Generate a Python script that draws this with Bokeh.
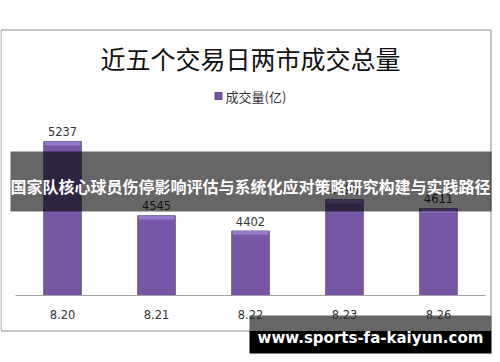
from bokeh.plotting import figure
from bokeh.models import Range1d
from bokeh.core.properties import value
from bokeh.embed import file_html
from bokeh.resources import INLINE

# ---- data ----
dates = ["8.20", "8.21", "8.22", "8.23", "8.26"]
volumes = [5237, 4545, 4402, 4695, 4611]
value_labels = [str(v) for v in volumes]
title_text = "近五个交易日两市成交总量"
legend_text = "成交量(亿)"
banner_text = "国家队核心球员伤停影响评估与系统化应对策略研究构建与实践路径"
url_text = "www.sports-fa-kaiyun.com"

AXIS_MIN = 3800
pos = list(range(len(dates)))  # category slots

CJK = value("Noto Sans CJK SC")
LAT = value("DejaVu Sans")

p = figure(width=500, height=362, title=None,
           x_range=Range1d(-0.66, len(dates) - 0.34),
           y_range=Range1d(3175, 6553),
           x_axis_type=None, y_axis_type=None,
           output_backend="svg", toolbar_location=None, min_border=0)
p.outline_line_color = None
p.background_fill_color = "white"
p.border_fill_color = "white"
p.extra_x_ranges = {"px": Range1d(0, 500)}
p.extra_y_ranges = {"px": Range1d(362, 0)}
PX = dict(x_range_name="px", y_range_name="px")

# chart frame
p.quad(left=[0.5], right=[490.5], top=[29.5], bottom=[330.5], fill_color=None,
       line_color="#8c8c8c", line_width=1, **PX)

# title
p.text(x=[250], y=[57], text=[title_text], text_font=CJK, text_font_size="25px",
       text_align="center", text_baseline="middle", text_color="#111111", **PX)

# legend
p.scatter(x=[218], y=[95.5], marker="square", size=7, fill_color="#7858a6",
          line_color="#5e4a7a", **PX)
p.text(x=[225], y=[95.5], text=[legend_text], text_font=CJK, text_font_size="13px",
       text_align="left", text_baseline="middle", text_color="#333333", **PX)

# bars
p.vbar(x=pos, top=volumes, bottom=AXIS_MIN, width=0.4, fill_color="#7757a5",
       line_color="#6a5a84", line_width=1)
p.vbar(x=pos, top=volumes, bottom=[v - 36 for v in volumes], width=0.38,
       fill_color="#957acb", line_color=None)

# baseline
p.segment(x0=[pos[0] - 0.5], x1=[pos[-1] + 0.5], y0=[AXIS_MIN], y1=[AXIS_MIN],
          line_color="#a0a0a0", line_width=1)

# value labels
p.text(x=pos, y=volumes, text=value_labels, y_offset=-10, text_font=LAT,
       text_font_size="11.5px", text_align="center", text_baseline="alphabetic",
       text_color="#333333")

# overlay banner
p.quad(left=[10], right=[491], top=[151], bottom=[211], fill_color="black",
       fill_alpha=0.6, line_color=None, **PX)
p.text(x=[250], y=[185], text=[banner_text], text_font=CJK, text_font_size="16px",
       text_font_style="bold", text_align="center", text_baseline="middle",
       text_color="white", **PX)

# bottom url banner
p.quad(left=[249], right=[491], top=[330], bottom=[353], fill_color="black",
       line_color=None, **PX)
p.quad(left=[249], right=[491], top=[315], bottom=[330], fill_color="#666666",
       line_color=None, **PX)

# category labels
p.text(x=pos, y=[AXIS_MIN] * len(dates), text=dates, y_offset=19, text_font=LAT,
       text_font_size="11.5px", text_align="center", text_baseline="middle",
       text_color="#333333")

p.text(x=[370], y=[337], text=[url_text], text_font=LAT, text_font_size="15px",
       text_font_style="bold", text_align="center", text_baseline="middle",
       text_color="white", **PX)

open("out.html", "w").write(file_html(p, INLINE))
